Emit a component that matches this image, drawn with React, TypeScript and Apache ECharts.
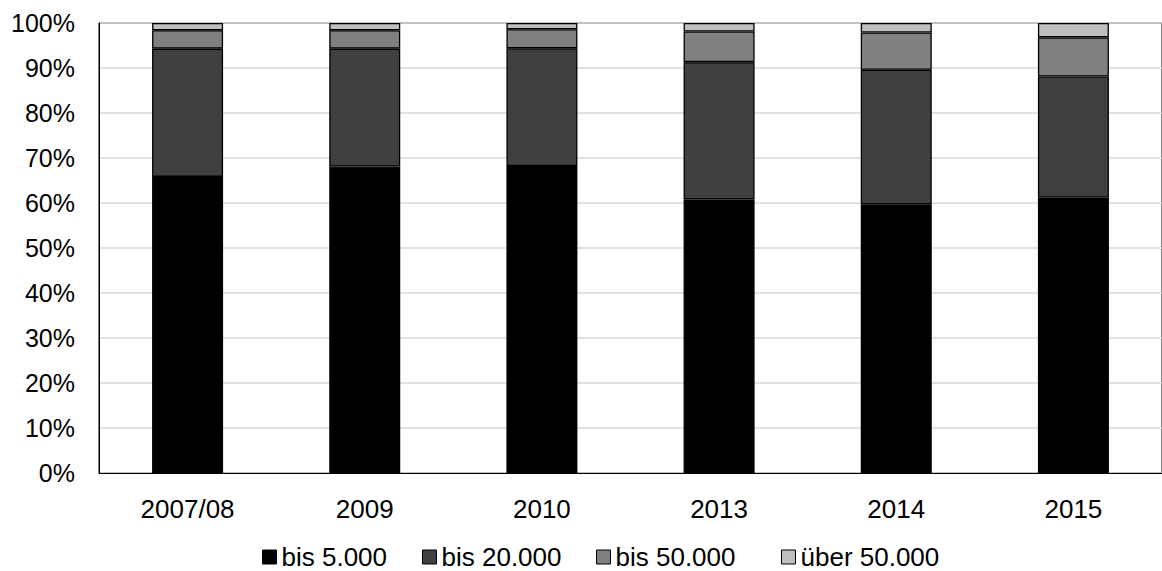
import React, { useEffect, useRef } from "react";
import * as echarts from "echarts";

// Share of holdings by size class, in percent per survey year
const categories = ["2007/08", "2009", "2010", "2013", "2014", "2015"];
const seriesNames = ["bis 5.000", "bis 20.000", "bis 50.000", "über 50.000"];
const bis5000 = [65.8, 68.1, 68.2, 60.8, 59.7, 61.2];
const bis20000 = [28.5, 26.2, 26.2, 30.5, 29.9, 26.9];
const bis50000 = [4.1, 4.1, 4.2, 6.8, 8.3, 8.7];
const ueber50000 = [1.6, 1.6, 1.4, 1.9, 2.1, 3.2];
const yTicks = { min: 0, max: 100, interval: 10 };

const seriesValues = [bis5000, bis20000, bis50000, ueber50000];
const colors = ["#000000", "#404040", "#808080", "#bfbfbf"];
const legendLefts = [262, 422, 596, 781];
const FONT = 'Arial, "Liberation Sans", sans-serif';

export default function App() {
  const ref = useRef<HTMLDivElement>(null);

  useEffect(() => {
    if (!ref.current) return;
    const chart = echarts.init(ref.current, null, { renderer: "svg" });
    chart.setOption({
      animation: false,
      backgroundColor: "#ffffff",
      textStyle: { fontFamily: FONT },
      grid: {
        left: 99,
        right: -10,
        top: 23,
        bottom: 98,
        show: true,
        borderColor: "#000000",
        borderWidth: 1,
        backgroundColor: "transparent",
      },
      legend: seriesNames.map((name, i) => ({
        data: [name],
        left: legendLefts[i],
        top: 543,
        padding: 0,
        itemWidth: 14,
        itemHeight: 14,
        icon: "rect",
        selectedMode: false,
        itemStyle: { borderColor: "#000000", borderWidth: 1 },
        textStyle: { fontSize: 26, lineHeight: 28, color: "#000000", fontFamily: FONT },
      })),
      xAxis: {
        type: "category",
        data: categories,
        axisLine: { show: true, lineStyle: { color: "#000000", width: 1 } },
        axisTick: { show: false },
        axisLabel: { fontSize: 26, color: "#000000", margin: 23, fontFamily: FONT },
      },
      yAxis: {
        type: "value",
        min: yTicks.min,
        max: yTicks.max,
        interval: yTicks.interval,
        axisLine: { show: true, lineStyle: { color: "#000000", width: 1 } },
        axisTick: { show: false },
        axisLabel: {
          fontSize: 25,
          color: "#000000",
          margin: 24,
          fontFamily: FONT,
          formatter: "{value}%",
        },
        splitLine: { show: true, lineStyle: { color: "#d9d9d9", width: 1.5 } },
      },
      series: seriesNames.map((name, i) => ({
        name,
        type: "bar",
        stack: "total",
        barWidth: 71,
        data: seriesValues[i],
        itemStyle: { color: colors[i], borderColor: "#000000", borderWidth: 1.3 },
      })),
    });
    return () => chart.dispose();
  }, []);

  return (
    <div
      ref={ref}
      style={{ position: "absolute", left: 0, top: 0, width: 1162, height: 571 }}
    />
  );
}
